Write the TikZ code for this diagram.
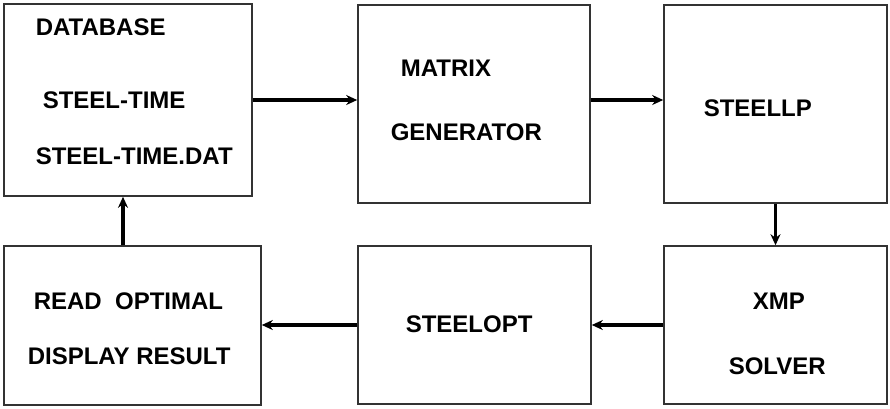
\documentclass[tikz,border=0pt]{standalone}
\usepackage{fontspec}
\setmainfont{Liberation Sans}
\usetikzlibrary{arrows.meta}

\begin{document}
\begin{tikzpicture}[x=1pt, y=-1pt, >={Stealth[length=11pt,width=10pt]}, line width=1.6pt]

\tikzset{
  block/.style={draw=black!80, line width=1.6pt, rectangle, inner sep=0pt},
  label/.style={anchor=west, inner sep=0pt, font=\fontsize{24}{27}\selectfont\bfseries},
  flow/.style={->, line width=3.4pt}
}

\useasboundingbox (0,0) rectangle (890,408);

% Database
\node[block, minimum width=248pt, minimum height=192pt] (db) at (128,100) {};
\node[label] (dbA) at (35,27) {DATABASE};
\node[label] (dbB) at (42,100) {STEEL-TIME};
\node[label] (dbC) at (35,156) {STEEL-TIME.DAT};

% Matrix generator
\node[block, minimum width=232pt, minimum height=198pt] (mg) at (474,104) {};
\node[label] (mgA) at (400,68) {MATRIX};
\node[label] (mgB) at (390,132) {GENERATOR};

% Steellp
\node[block, minimum width=223pt, minimum height=198pt] (lp) at (775.5,104) {};
\node[label] (lpA) at (703,108) {STEELLP};

% XMP solver
\node[block, minimum width=223pt, minimum height=158pt] (xmp) at (775.5,325) {};
\node[label] (xmpA) at (752,301) {XMP};
\node[label] (xmpB) at (728,366) {SOLVER};

% Steelopt
\node[block, minimum width=233pt, minimum height=158pt] (opt) at (474.5,325) {};
\node[label] (optA) at (405,324) {STEELOPT};

% Read optimal
\node[block, minimum width=257pt, minimum height=159pt] (rd) at (132.5,325.5) {};
\node[label] (rdA) at (33,301) {READ~~OPTIMAL};
\node[label] (rdB) at (27,356) {DISPLAY RESULT};

% Arrows
\draw[flow] (db.east) -- (db.east -| mg.west);
\draw[flow] (mg.east |- db.east) -- (lp.west |- db.east);
\draw[flow] (lp.south) -- (xmp.north);
\draw[flow] (xmp.west) -- (opt.east);
\draw[flow] (opt.west) -- (opt.west -| rd.east);
\draw[flow] ([xshift=-5pt]db.south |- rd.north) -- ([xshift=-5pt]db.south);

\end{tikzpicture}
\end{document}
